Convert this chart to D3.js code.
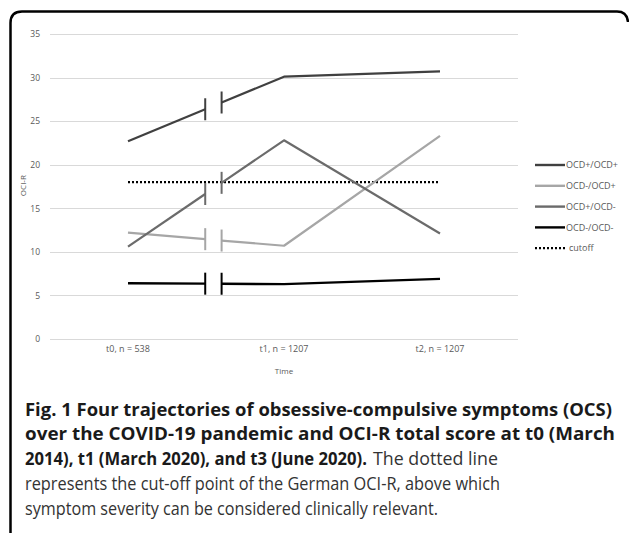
<!DOCTYPE html>
<html>
<head>
<meta charset="utf-8">
<script src="https://cdn.jsdelivr.net/npm/d3@7"></script>
<style>
  body { margin: 0; background: #fff; }
  svg { display: block; }
</style>
</head>
<body>
<div id="mainContainer"><svg></svg></div>
<script>
const SVG_WIDTH = 629;
const SVG_HEIGHT = 533;

// data
const timepoints = ["t0, n = 538", "t1, n = 1207", "t2, n = 1207"];
const seriesNames = ["OCD+/OCD+", "OCD-/OCD+", "OCD+/OCD-", "OCD-/OCD-"];
const ocdPosPos = [22.7, 30.1, 30.7];
const ocdNegPos = [12.2, 10.7, 23.3];
const ocdPosNeg = [10.6, 22.8, 12.1];
const ocdNegNeg = [6.4, 6.3, 6.9];
const cutoff = [18, 18, 18];
const yTicks = [0, 5, 10, 15, 20, 25, 30, 35];
const seriesColors = ["#404040", "#a6a6a6", "#6b6b6b", "#000000"];

// where the t0 -> t1 segment is broken (fraction of the way)
const BREAK_START = 0.495;
const BREAK_END = 0.6;

const seriesValues = [ocdPosPos, ocdNegPos, ocdPosNeg, ocdNegNeg];

let svg = d3.select("#mainContainer").select("svg")
    .attr("width", SVG_WIDTH)
    .attr("height", SVG_HEIGHT);

// frame round the figure (open at the bottom)
svg.append("path")
    .attr("d", "M10.5,533 L10.5,23 Q10.5,11.5 22,11.5 L617,11.5 Q627,11.5 628,22")
    .attr("fill", "none")
    .attr("stroke", "#000")
    .attr("stroke-width", 2.5);

const x = d3.scaleBand().domain(timepoints).range([50, 518]).padding(0);
const xc = d => x(d) + x.bandwidth() / 2;
const y = d3.scaleLinear().domain([0, 35]).range([339, 34]);

// gridlines
svg.append("g")
    .selectAll("line")
    .data(yTicks)
    .enter()
    .append("line")
    .attr("x1", 50)
    .attr("x2", 518)
    .attr("y1", d => Math.round(y(d)) + 0.5)
    .attr("y2", d => Math.round(y(d)) + 0.5)
    .attr("stroke", "#d9d9d9")
    .attr("stroke-width", 1);

// y axis labels
let yAxis = svg.append("g")
    .attr("transform", "translate(40,0)")
    .call(d3.axisLeft(y).tickValues(yTicks).tickSize(0).tickPadding(0));
yAxis.select(".domain").remove();
yAxis.selectAll("text")
    .attr("fill", "#595959")
    .style("font-family", "Open Sans")
    .style("font-size", "8.5px");

// x axis labels
let xAxis = svg.append("g")
    .attr("transform", "translate(0,346)")
    .call(d3.axisBottom(x).tickSize(0).tickPadding(0));
xAxis.select(".domain").remove();
xAxis.selectAll("text")
    .attr("fill", "#595959")
    .style("font-family", "Open Sans")
    .style("font-size", "9px");

svg.append("text")
    .attr("x", xc(timepoints[1]))
    .attr("y", 374)
    .attr("text-anchor", "middle")
    .attr("fill", "#595959")
    .style("font-family", "Open Sans")
    .style("font-size", "8px")
    .text("Time");

svg.append("text")
    .attr("transform", "translate(26," + y(17.6) + ") rotate(-90)")
    .attr("text-anchor", "middle")
    .attr("fill", "#595959")
    .style("font-family", "Open Sans")
    .style("font-size", "8px")
    .text("OCI-R");

// cutoff line
const line = d3.line().x(d => d[0]).y(d => y(d[1]));
svg.append("path")
    .datum(cutoff.map((v, i) => [xc(timepoints[i]), v]))
    .attr("d", line)
    .attr("fill", "none")
    .attr("stroke", "#000")
    .attr("stroke-width", 2.2)
    .attr("stroke-dasharray", "2,2");

// series with a broken first segment
seriesValues.forEach((vals, s) => {
    const x0 = xc(timepoints[0]);
    const x1 = xc(timepoints[1]);
    const xa = x0 + (x1 - x0) * BREAK_START;
    const xb = x0 + (x1 - x0) * BREAK_END;
    const va = vals[0] + (vals[1] - vals[0]) * BREAK_START;
    const vb = vals[0] + (vals[1] - vals[0]) * BREAK_END;
    const w = s === 3 ? 2.4 : 2.2;
    let g = svg.append("g");
    g.append("path")
        .datum([[x0, vals[0]], [xa, va]])
        .attr("d", line)
        .attr("fill", "none")
        .attr("stroke", seriesColors[s])
        .attr("stroke-width", w);
    g.append("path")
        .datum([[xb, vb]].concat(vals.slice(1).map((v, i) => [xc(timepoints[i + 1]), v])))
        .attr("d", line)
        .attr("fill", "none")
        .attr("stroke", seriesColors[s])
        .attr("stroke-width", w)
        .attr("stroke-linejoin", "round");
    // break marks
    g.selectAll("line")
        .data([[xa, va], [xb, vb]])
        .enter()
        .append("line")
        .attr("x1", d => d[0])
        .attr("x2", d => d[0])
        .attr("y1", d => y(d[1]) - 11)
        .attr("y2", d => y(d[1]) + 11)
        .attr("stroke", seriesColors[s])
        .attr("stroke-width", 2);
});

// legend
const legendItems = seriesNames.concat(["cutoff"]);
let legend = svg.append("g").selectAll("g")
    .data(legendItems)
    .enter()
    .append("g")
    .attr("transform", (d, i) => "translate(535," + (165 + i * 20.8) + ")");
legend.append("line")
    .attr("x1", 0)
    .attr("x2", 30)
    .attr("stroke", (d, i) => i < 4 ? seriesColors[i] : "#000")
    .attr("stroke-width", (d, i) => i < 4 ? 2.4 : 2.2)
    .attr("stroke-dasharray", (d, i) => i < 4 ? null : "2,2");
legend.append("text")
    .attr("x", (d, i) => i < 4 ? 31 : 34)
    .attr("dy", "0.35em")
    .attr("fill", "#595959")
    .style("font-family", "Open Sans")
    .style("font-size", "9px")
    .text(d => d);

// caption: [text, bold, x, width]
const captionLines = [
    [["Fig. 1 Four trajectories of obsessive-compulsive symptoms (OCS)", true, 25, 587]],
    [["over the COVID-19 pandemic and OCI-R total score at t0 (March", true, 25, 590]],
    [["2014), t1 (March 2020), and t3 (June 2020).", true, 25, 342],
     ["The dotted line", false, 373, 125]],
    [["represents the cut-off point of the German OCI-R, above which", false, 25, 475]],
    [["symptom severity can be considered clinically relevant.", false, 25, 413]]
];
let caption = svg.append("g");
captionLines.forEach((parts, i) => {
    parts.forEach(p => {
        caption.append("text")
            .attr("x", p[2])
            .attr("y", 415.5 + i * 24.8)
            .attr("textLength", p[3])
            .attr("lengthAdjust", "spacingAndGlyphs")
            .attr("font-weight", p[1] ? "bold" : "normal")
            .attr("fill", p[1] ? "#1a1a1a" : "#333")
            .style("font-family", "Open Sans")
            .style("font-size", "17.5px")
            .text(p[0]);
    });
});
</script>
</body>
</html>
